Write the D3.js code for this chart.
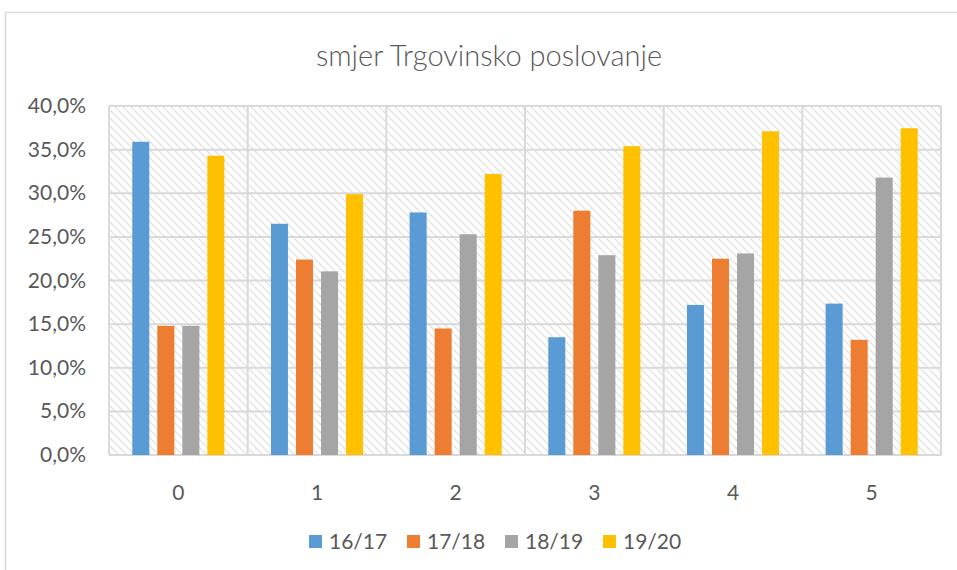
<!DOCTYPE html>
<html lang="hr">
<head>
  <meta charset="UTF-8">
  <title>smjer Trgovinsko poslovanje</title>
  <script src="https://d3js.org/d3.v7.min.js"></script>
  <style>
    body { margin: 0; background: #fff; }
    text { font-family: Lato, "Open Sans", sans-serif; fill: #595959; }
  </style>
</head>
<body>
<script>
  const categories = ["0", "1", "2", "3", "4", "5"];
  const seriesNames = ["16/17", "17/18", "18/19", "19/20"];
  const s1617 = [35.9, 26.5, 27.8, 13.5, 17.2, 17.35];
  const s1718 = [14.8, 22.4, 14.5, 28.0, 22.5, 13.2];
  const s1819 = [14.8, 21.05, 25.3, 22.9, 23.1, 31.8];
  const s1920 = [34.3, 29.9, 32.2, 35.4, 37.1, 37.45];
  const yTicks = [0, 5, 10, 15, 20, 25, 30, 35, 40];
  const colors = ["#5b9bd5", "#ed7d31", "#a5a5a5", "#ffc000"];

  const values = [s1617, s1718, s1819, s1920];

  const width = 957, height = 570;
  const margin = {top: 106, right: 16, bottom: 115, left: 109};

  const svg = d3.select("body").append("svg")
    .attr("width", width)
    .attr("height", height);

  // chart frame
  svg.append("rect")
    .attr("x", 5.5).attr("y", 12.5)
    .attr("width", width + 10).attr("height", height + 10)
    .attr("fill", "none")
    .attr("stroke", "#d9d9d9")
    .attr("stroke-width", 1.5);

  const defs = svg.append("defs");
  const pat = defs.append("pattern")
    .attr("id", "hatch")
    .attr("patternUnits", "userSpaceOnUse")
    .attr("width", 8).attr("height", 8);
  pat.append("rect").attr("width", 8).attr("height", 8).attr("fill", "#fff");
  pat.append("path")
    .attr("d", "M-2,-2 L10,10 M-2,6 L2,10 M6,-2 L10,2")
    .attr("stroke", "#dcdcdc")
    .attr("stroke-width", 1.7)
    .attr("stroke-dasharray", "1.6,0.9");

  const x0 = d3.scaleBand()
    .domain(categories)
    .range([margin.left, width - margin.right])
    .padding(0);

  const x1 = d3.scaleBand()
    .domain(seriesNames)
    .range([0, x0.bandwidth()])
    .paddingInner(0.32)
    .paddingOuter(0.93);

  const y = d3.scaleLinear()
    .domain([0, 40])
    .range([height - margin.bottom, margin.top]);

  const plotW = width - margin.right - margin.left;
  const plotH = height - margin.bottom - margin.top;

  svg.append("rect")
    .attr("x", margin.left).attr("y", margin.top)
    .attr("width", plotW).attr("height", plotH)
    .attr("fill", "url(#hatch)");

  // horizontal grid
  svg.append("g")
    .selectAll("line")
    .data(yTicks)
    .join("line")
    .attr("x1", margin.left).attr("x2", width - margin.right)
    .attr("y1", d => y(d)).attr("y2", d => y(d))
    .attr("stroke", "#d9d9d9")
    .attr("stroke-width", 2);

  // vertical grid at category boundaries
  const bounds = categories.map(c => x0(c)).concat([width - margin.right]);
  svg.append("g")
    .selectAll("line")
    .data(bounds)
    .join("line")
    .attr("x1", d => d).attr("x2", d => d)
    .attr("y1", margin.top).attr("y2", height - margin.bottom)
    .attr("stroke", "#d9d9d9")
    .attr("stroke-width", 2);

  // bars
  const groups = svg.append("g")
    .selectAll("g")
    .data(categories)
    .join("g")
    .attr("transform", c => "translate(" + x0(c) + ",0)");

  groups.selectAll("rect")
    .data((c, i) => seriesNames.map((s, j) => ({s: s, v: values[j][i], j: j})))
    .join("rect")
    .attr("x", d => x1(d.s))
    .attr("width", x1.bandwidth())
    .attr("y", d => y(d.v))
    .attr("height", d => y(0) - y(d.v))
    .attr("fill", d => colors[d.j]);

  // y labels
  svg.append("g")
    .selectAll("text")
    .data(yTicks)
    .join("text")
    .attr("x", 86)
    .attr("y", d => y(d) + 7)
    .attr("text-anchor", "end")
    .attr("font-size", 21)
    .text(d => d3.format(".1f")(d).replace(".", ",") + "%");

  // x labels
  svg.append("g")
    .selectAll("text")
    .data(categories)
    .join("text")
    .attr("x", c => x0(c) + x0.bandwidth() / 2)
    .attr("y", 500)
    .attr("text-anchor", "middle")
    .attr("font-size", 21)
    .text(c => c);

  // title
  svg.append("text")
    .attr("x", 489)
    .attr("y", 66)
    .attr("text-anchor", "middle")
    .attr("font-size", 29)
    .attr("font-weight", 300)
    .text("smjer Trgovinsko poslovanje");

  // legend
  const legend = svg.append("g")
    .selectAll("g")
    .data(seriesNames)
    .join("g")
    .attr("transform", (d, i) => "translate(" + (309 + i * 98) + ",535)");
  legend.append("rect")
    .attr("width", 13).attr("height", 13)
    .attr("fill", (d, i) => colors[i]);
  legend.append("text")
    .attr("x", 20).attr("y", 14)
    .attr("font-size", 21)
    .text(d => d);
</script>
</body>
</html>
